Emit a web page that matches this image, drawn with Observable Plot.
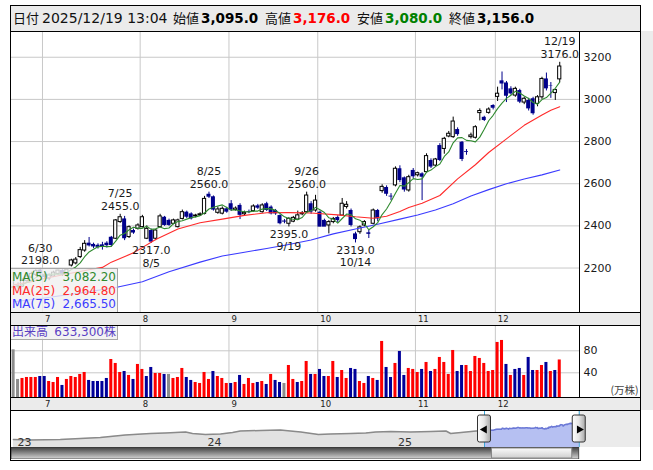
<!DOCTYPE html>
<html lang="ja">
<head>
<meta charset="utf-8">
<script src="https://cdn.jsdelivr.net/npm/d3@7"></script>
<script src="https://cdn.jsdelivr.net/npm/@observablehq/plot@0.6"></script>
<style>
  html,body{margin:0;padding:0;background:#fff;}
  #chart{position:relative;width:653px;height:470px;overflow:hidden;background:#fff;font-family:"DejaVu Sans","Noto Sans CJK JP",sans-serif;}
  #chart svg{display:block;}
</style>
</head>
<body>
<div id="chart"></div>
<script>
// ===================== DATA =====================
const dates = ["6/20","6/23","6/24","6/25","6/26","6/27","6/30",
"7/1","7/2","7/3","7/4","7/7","7/8","7/9","7/10","7/11","7/14","7/15","7/16","7/17","7/18","7/22","7/23","7/24","7/25","7/28","7/29","7/30","7/31",
"8/1","8/4","8/5","8/6","8/7","8/8","8/12","8/13","8/14","8/15","8/18","8/19","8/20","8/21","8/22","8/25","8/26","8/27","8/28","8/29",
"9/1","9/2","9/3","9/4","9/5","9/8","9/9","9/10","9/11","9/12","9/16","9/17","9/18","9/19","9/22","9/24","9/25","9/26","9/29","9/30",
"10/1","10/2","10/3","10/6","10/7","10/8","10/9","10/10","10/14","10/15","10/16","10/17","10/20","10/21","10/22","10/23","10/24","10/27","10/28","10/29","10/30","10/31",
"11/4","11/5","11/6","11/7","11/10","11/11","11/12","11/13","11/14","11/17","11/18","11/19","11/20","11/21","11/25","11/26","11/27","11/28",
"12/1","12/2","12/3","12/4","12/5","12/8","12/9","12/10","12/11","12/12","12/15","12/16","12/17","12/18","12/19"];

const opens = [2110,2115,2112,2138,2155,2168,2190,
2170,2150,2160,2172,2188,2172,2212,2222,2252,2283,
2318,2312,2308,2310,2318,2346,2339,2418,2433,2347,
2378,2386,2394,2339,2378,2339,2394,2441,2426,2410,
2394,2433,2465,2457,2445,2450,2457,2550,2538,2462,
2458,2481,2505,2475,2497,2455,2467,2470,2495,2465,
2505,2489,2473,2449,2423,2410,2420,2430,2455,2465,
2505,2473,2465,2426,2402,2418,2440,2449,2490,2473,
2362,2370,2402,2367,2410,2473,2565,2582,2541,2592,
2671,2628,2568,2663,2640,2647,2655,2710,2686,2781,
2765,2824,2821,2857,2797,2752,2821,2818,2935,2915,
2936,2971,3012,3088,3078,3050,3018,3042,2985,2995,
3003,2979,3010,3097,3064,3030,3095];

const highs = [2135,2130,2148,2168,2180,2192,2198,
2180,2172,2185,2190,2192,2196,2242,2250,2298,2330,
2345,2318,2315,2322,2325,2350,2430,2455,2445,2400,
2385,2410,2450,2400,2385,2382,2455,2445,2432,2432,
2432,2475,2470,2462,2455,2462,2540,2560,2542,2490,
2490,2488,2520,2490,2505,2470,2475,2500,2502,2505,
2512,2495,2478,2452,2430,2440,2445,2470,2468,2560,
2515,2545,2470,2432,2425,2440,2448,2530,2515,2480,
2370,2400,2425,2380,2480,2478,2595,2590,2553,2680,
2685,2632,2640,2672,2655,2652,2742,2718,2720,2790,
2820,2848,2916,2865,2800,2762,2840,2875,2955,2920,
2960,2975,3058,3130,3085,3060,3058,3048,3010,3005,
3010,3018,3105,3125,3080,3045,3176];

const lows = [2095,2100,2108,2132,2150,2160,2165,
2145,2140,2155,2165,2160,2168,2205,2215,2245,2275,
2300,2292,2290,2285,2295,2300,2335,2412,2330,2340,
2360,2380,2390,2335,2317,2330,2390,2398,2398,2405,
2390,2428,2435,2428,2438,2445,2452,2530,2470,2455,
2452,2460,2468,2470,2430,2448,2458,2465,2478,2460,
2468,2452,2450,2405,2410,2395,2415,2425,2448,2460,
2455,2465,2396,2398,2362,2410,2415,2445,2480,2395,
2319,2360,2395,2340,2405,2420,2555,2540,2520,2585,
2605,2560,2560,2625,2632,2520,2650,2672,2680,2705,
2740,2818,2815,2825,2705,2735,2812,2812,2898,2895,
2930,2950,2990,3045,2985,3020,3010,2980,2975,2945,
2925,2965,3000,3040,3005,2995,3080];

const closes = [2110,2115,2140,2160,2172,2186,2172,
2155,2165,2178,2188,2170,2192,2236,2240,2285,2315,
2305,2300,2298,2300,2306,2307,2426,2441,2339,2394,
2366,2402,2441,2386,2323,2378,2445,2402,2402,2426,
2426,2465,2441,2433,2449,2455,2528,2536,2475,2478,
2481,2465,2475,2482,2450,2462,2463,2492,2484,2497,
2473,2457,2457,2410,2418,2433,2438,2450,2460,2544,
2465,2520,2394,2394,2418,2433,2425,2505,2500,2402,
2335,2393,2418,2360,2473,2433,2585,2550,2537,2671,
2615,2570,2631,2633,2650,2631,2731,2679,2715,2710,
2813,2837,2895,2833,2715,2748,2829,2868,2945,2900,
2952,2958,3027,3073,3015,3026,3050,2987,3003,2955,
2932,3010,3097,3050,3062,3045,3156];

// volume in 万株
const volumes = [81.8,27.9,29.7,31.5,31.5,31.5,33.3,
33.3,24.2,22.4,31.5,17.0,27.9,33.3,31.5,37.0,40.6,
26.1,24.2,24.2,24.2,29.7,64.2,57.0,40.6,42.4,35.2,
27.9,55.2,46.1,33.3,49.7,38.8,38.8,37.0,37.0,29.7,
31.5,47.9,31.5,26.1,22.4,20.6,40.6,27.9,42.4,33.3,
29.7,20.6,20.6,22.4,35.2,18.8,29.7,20.6,22.4,24.2,
18.8,37.0,26.1,22.4,20.6,53.3,27.9,22.4,24.2,60.6,
37.0,37.0,46.1,33.3,33.3,60.6,31.5,44.2,29.7,47.9,
46.1,24.2,20.6,33.3,29.7,26.1,97.0,49.7,31.5,57.0,
78.8,35.2,47.9,46.1,40.6,46.1,58.8,42.4,46.1,67.9,
58.8,37.0,80.6,42.4,53.3,53.3,42.4,69.7,66.1,57.0,
42.4,44.2,95.2,98.8,55.2,35.2,46.1,47.9,35.2,67.9,
44.2,44.2,53.3,58.8,42.4,44.2,63.33];

// volume bar colour: u = up (red), d = down (blue), n = unchanged (gray)
const volDir = ("nnuuuud" + "duuuduuuuu" + "ddddduuudu" + "duudduudnu" + "uudduuuudu" +
  "uududuuudu" + "duddnuuduu" + "dudduuduud" + "duudududdu" + "dduuududuu" +
  "uuudduuuuu" + "uuuududdud" + "duududu").split("");

const ma25Dates = ["6/20","6/26","7/1","7/8","7/15","7/18","7/23","7/30","8/6","8/14","8/21","8/28","9/4","9/11","9/19","9/29","10/7","10/14","10/20","10/23","10/28","10/30","11/5","11/11","11/17","11/21","11/27","12/3","12/9","12/15","12/17","12/19"];
const ma25Vals  = [2120,2135,2150,2172,2192,2203,2228,2272,2335,2385,2415,2432,2450,2462,2463,2461,2452,2443,2436,2446,2468,2487,2507,2544,2623,2690,2748,2813,2877,2926,2948,2965];
const ma75Dates = ["6/20","7/1","7/15","7/24","8/1","8/12","8/21","8/28","9/4","9/11","9/19","9/29","10/6","10/14","10/21","10/28","11/4","11/10","11/14","11/20","11/27","12/3","12/9","12/15","12/19"];
const ma75Vals  = [2040,2058,2088,2108,2135,2182,2228,2257,2275,2293,2312,2333,2362,2385,2408,2432,2452,2475,2505,2542,2572,2600,2622,2642,2665];

const maLegendNames  = ["MA(5)","MA(25)","MA(75)"];
const maLegendValues = [3082.20, 2964.80, 2665.50];
const maColors       = ["#2f8a2f","#ff2a2a","#3b3bff"];

const annDates = ["6/30","7/25","8/5","8/25","9/19","9/26","10/14","12/19"];
const annKinds = ["high","high","low","high","low","high","low","high"];

const priceTicks = [2200,2400,2600,2800,3000,3200];
const volTicks = [40,80];
const monthLabels = ["7","8","9","10","11","12"];
const monthFirstDates = ["7/1","8/1","9/1","10/1","11/4","12/1"];

// navigator history (before the displayed window)
const navHistDates = ["2022-12-28","2023-01-29","2023-03-28","2023-06-13","2023-07-31","2023-09-17","2023-10-16","2023-11-04","2023-11-24","2023-12-07","2024-01-01","2024-01-30","2024-02-22","2024-03-08","2024-04-16","2024-05-24","2024-06-12","2024-07-02","2024-08-05","2024-08-28","2024-10-06","2024-11-04","2024-11-23","2024-12-22","2025-01-29","2025-03-09","2025-04-07","2025-04-16","2025-05-06","2025-06-04"];
const navHistPrices = [1013,950,1013,1266,1582,1772,1835,1899,1962,1772,1646,1709,1899,2089,2152,2215,2089,1962,1646,1709,1772,1835,1962,2025,1962,2025,2089,1772,1899,2089];
const yearStarts = ["2023-01-01","2024-01-01","2025-01-01"];
const yearLabels = ["23","24","25"];

// ===================== SETUP =====================
const FONT = '"DejaVu Sans","Noto Sans CJK JP",sans-serif';
const CJK = '"Noto Sans CJK JP","DejaVu Sans",sans-serif';
const GRID = "#c8c8c8";
const X_DOMAIN = [-0.477, 127.676];
const P_DOMAIN = [1989.1, 3322.1];
const V_DOMAIN = [-4.9, 126];
const NAV_Y = [0, 4550];
const NAV_X = [new Date("2022-12-24T08:00:00Z"), new Date("2026-04-15T16:00:00Z")];
const VOL_COLORS = {u: "#ff0000", d: "#000099", n: "#8c8c8c"};

const candles = dates.map((d, p) => ({p, date: d, o: opens[p], h: highs[p], l: lows[p], c: closes[p], v: volumes[p], dir: volDir[p]}));
const monthP = monthFirstDates.map(d => dates.indexOf(d));
const ma25 = ma25Dates.map((d, k) => ({p: dates.indexOf(d), v: ma25Vals[k]}));
const ma75 = ma75Dates.map((d, k) => ({p: dates.indexOf(d), v: ma75Vals[k]}));
const ann = annDates.map((d, k) => {
  const p = dates.indexOf(d);
  return {p, date: d, kind: annKinds[k], price: annKinds[k] === "high" ? highs[p] : lows[p]};
});
const last = dates.length - 1;

const root = document.getElementById("chart");
function addDiv(css, html) {
  const d = document.createElement("div");
  d.style.cssText = "position:absolute;" + css;
  if (html != null) d.innerHTML = html;
  root.appendChild(d);
  return d;
}
function addSvg(svg, left, top, w, h) {
  const d = addDiv(`left:${left}px;top:${top}px;width:${w}px;height:${h}px;`);
  d.appendChild(svg);
  return d;
}
function addDefs(svg, html) {
  const defs = document.createElementNS("http://www.w3.org/2000/svg", "defs");
  defs.innerHTML = html;
  svg.insertBefore(defs, svg.firstChild);
}

// ---------- backgrounds ----------
addDiv("left:10px;top:5px;width:631px;height:27px;background:#ebebeb;");
addDiv("left:641px;top:31px;width:12px;height:379px;background:#ececec;");
addDiv("left:10px;top:312px;width:631px;height:13px;background:#ebebeb;");
addDiv("left:10px;top:397px;width:631px;height:13px;background:#ebebeb;");

// ---------- header ----------
const fmt1 = d3.format(",.1f");
const hdrItems = [
  {t: "日付", x: 13, k: "lab"},
  {t: "2025/12/19 13:04", x: 42, k: "num"},
  {t: "始値", x: 173, k: "lab"}, {t: fmt1(opens[last]), x: 201, k: "val", c: "#000"},
  {t: "高値", x: 265, k: "lab"}, {t: fmt1(highs[last]), x: 293, k: "val", c: "#ff0000"},
  {t: "安値", x: 357, k: "lab"}, {t: fmt1(lows[last]), x: 385, k: "val", c: "#008000"},
  {t: "終値", x: 449, k: "lab"}, {t: fmt1(closes[last]), x: 477, k: "val", c: "#000"}
];
for (const it of hdrItems) {
  const f = it.k === "lab" ? `font-family:${CJK};font-size:13px;`
          : it.k === "num" ? `font-family:${FONT};font-size:14px;`
          : `font-family:${FONT};font-size:13.5px;font-weight:bold;`;
  addDiv(`left:${it.x}px;top:5px;height:26px;line-height:26px;white-space:nowrap;color:${it.c || "#111"};${f}`, it.t);
}

// ---------- main price chart ----------
const main = Plot.plot({
  width: 630, height: 281, marginTop: 0, marginBottom: 0, marginLeft: 1, marginRight: 60,
  style: {background: "white", fontFamily: FONT, fontSize: "11px", color: "#1a1a1a"},
  x: {domain: X_DOMAIN, axis: null},
  y: {domain: P_DOMAIN, axis: null, label: null},
  marks: [
    Plot.gridY(priceTicks, {stroke: GRID, strokeOpacity: 1}),
    Plot.ruleX(monthP, {x: p => p - 0.5, stroke: GRID, strokeOpacity: 1}),
    Plot.ruleX(candles.filter(d => d.c < d.o), {x: "p", y1: "l", y2: "h", stroke: "#00008b"}),
    Plot.ruleX(candles.filter(d => d.c >= d.o), {x: "p", y1: "l", y2: "h", stroke: "#000"}),
    Plot.rect(candles.filter(d => d.c < d.o), {x1: d => d.p - 0.45, x2: d => d.p + 0.45, y1: "o", y2: "c", fill: "#00008b"}),
    Plot.rect(candles.filter(d => d.c > d.o), {x1: d => d.p - 0.36, x2: d => d.p + 0.36, y1: "o", y2: "c", fill: "#fff", stroke: "#000", strokeWidth: 1}),
    Plot.ruleY(candles.filter(d => d.c === d.o), {x1: d => d.p - 0.45, x2: d => d.p + 0.45, y: "o", stroke: "#000"}),
    Plot.line(ma75, {x: "p", y: "v", stroke: maColors[2], strokeWidth: 1.1}),
    Plot.line(ma25, {x: "p", y: "v", stroke: maColors[1], strokeWidth: 1.1}),
    Plot.line(candles, Plot.windowY({k: 5, anchor: "end"}, {x: "p", y: "c", stroke: maColors[0], strokeWidth: 1.1})),
    Plot.text(ann.filter(a => a.kind === "high"), {x: "p", y: "price", text: a => `${a.date}\n${a.price.toFixed(1)}`,
      lineAnchor: "bottom", dy: -4, fontSize: 11, lineHeight: 1.17, fill: "#1a1a1a"}),
    Plot.text(ann.filter(a => a.kind === "low"), {x: "p", y: "price", text: a => `${a.price.toFixed(1)}\n${a.date}`,
      lineAnchor: "top", dy: 1.5, fontSize: 11, lineHeight: 1.17, fill: "#1a1a1a"}),
    Plot.axisY(priceTicks, {anchor: "right", tickSize: 0, tickPadding: 3, fontSize: 11, label: null, fill: "#1a1a1a", tickFormat: d => String(d)})
  ]
});
addSvg(main, 10, 31, 630, 281);

// ---------- month label rows ----------
function monthRow() {
  return Plot.plot({
    width: 630, height: 13, marginTop: 0, marginBottom: 0, marginLeft: 1, marginRight: 60,
    style: {background: "transparent", fontFamily: FONT},
    x: {domain: X_DOMAIN, axis: null},
    marks: [Plot.text(monthP, {x: p => p - 0.5, text: (p, k) => monthLabels[k], textAnchor: "start", dx: 2.5,
      frameAnchor: "middle", fontSize: 8.5, fill: "#222"})]
  });
}
addSvg(monthRow(), 10, 312, 630, 13);
addSvg(monthRow(), 10, 397, 630, 13);

// ---------- volume ----------
const volPlot = Plot.plot({
  width: 630, height: 72, marginTop: 0, marginBottom: 0, marginLeft: 1, marginRight: 60,
  style: {background: "white", fontFamily: FONT, fontSize: "11px", color: "#1a1a1a"},
  x: {domain: X_DOMAIN, axis: null},
  y: {domain: V_DOMAIN, axis: null, label: null},
  marks: [
    Plot.gridY(volTicks, {stroke: GRID, strokeOpacity: 1}),
    Plot.ruleX(monthP, {x: p => p - 0.5, stroke: GRID, strokeOpacity: 1}),
    ...["u", "d", "n"].map(k => Plot.rect(candles.filter(d => d.dir === k),
      {x1: d => d.p - 0.34, x2: d => d.p + 0.34, y1: () => V_DOMAIN[0], y2: "v", fill: VOL_COLORS[k]})),
    Plot.axisY(volTicks, {anchor: "right", tickSize: 0, tickPadding: 3, fontSize: 11, label: null, fill: "#1a1a1a", tickFormat: d => String(d)}),
    Plot.text(["(万株)"], {text: d => d, frameAnchor: "bottom-right", textAnchor: "end", lineAnchor: "middle",
      dx: 58, dy: -6.5, fontSize: 10.5, fill: "#444", fontFamily: CJK})
  ]
});
addSvg(volPlot, 10, 325, 630, 72);

// ---------- navigator ----------
const parseMD = md => { const [m, d] = md.split("/").map(Number); return new Date(Date.UTC(2025, m - 1, d)); };
const navData = navHistDates.map((d, k) => ({date: new Date(d + "T00:00:00Z"), v: navHistPrices[k]}))
  .concat(candles.map(c => ({date: parseMD(c.date), v: c.c})));
const selStart = parseMD(dates[0]), selEnd = parseMD(dates[last]);
const navSel = navData.filter(d => d.date >= selStart);
const handles = [{date: selStart, rot: -90}, {date: selEnd, rot: 90}];

const nav = Plot.plot({
  width: 630, height: 36, marginTop: 0, marginBottom: 0, marginLeft: 1, marginRight: 0,
  style: {background: "white", fontFamily: FONT},
  x: {type: "utc", domain: NAV_X, axis: null},
  y: {domain: NAV_Y, axis: null},
  marks: [
    Plot.rect([0], {x1: () => selEnd, x2: () => NAV_X[1], fill: "#ebebeb"}),
    Plot.areaY(navData, {x: "date", y: "v", fill: "#e2e2e2"}),
    Plot.areaY(navSel, {x: "date", y: "v", fill: "#b6c0f2"}),
    Plot.lineY(navData.filter(d => d.date <= selStart), {x: "date", y: "v", stroke: "#8a8a8a"}),
    Plot.lineY(navSel, {x: "date", y: "v", stroke: "#6b78d6"}),
    Plot.text(yearStarts, {x: d => new Date(d + "T00:00:00Z"), text: (d, k) => yearLabels[k], textAnchor: "start", dx: 2,
      frameAnchor: "bottom", lineAnchor: "bottom", dy: -2, fontSize: 11, fill: "#333"}),
    Plot.ruleX(handles, {x: "date", stroke: "#3aa6d8"}),
    Plot.rect(handles, {x1: "date", x2: "date", insetLeft: -6.5, insetRight: -6.5, insetTop: 4, insetBottom: 5,
      fill: "url(#handleGrad)", stroke: "#333", rx: 2}),
    Plot.dot(handles, {x: "date", frameAnchor: "middle", symbol: "triangle", rotate: "rot", r: 3, fill: "#000", stroke: "none"})
  ]
});
addDefs(nav, `<linearGradient id="handleGrad" x1="0" x2="1" y1="0" y2="0">
  <stop offset="0" stop-color="#ffffff"/><stop offset="0.5" stop-color="#e6e6e6"/><stop offset="1" stop-color="#a8a8a8"/></linearGradient>`);
addSvg(nav, 10, 411, 630, 36);

const scroll = Plot.plot({
  width: 630, height: 12, marginTop: 0, marginBottom: 0, marginLeft: 1, marginRight: 0,
  style: {background: "white"},
  x: {type: "utc", domain: NAV_X, axis: null},
  marks: [
    Plot.rect([0], {x1: () => NAV_X[0], x2: () => selEnd, fill: "url(#trackGrad)", stroke: "#333", strokeWidth: 0.8}),
    Plot.rect([0], {x1: () => selStart, x2: () => selEnd, insetLeft: 7.5, insetRight: 7, insetTop: 1, insetBottom: 1,
      fill: "url(#thumbGrad)", stroke: "#888"})
  ]
});
addDefs(scroll, `<linearGradient id="trackGrad" x1="0" x2="0" y1="0" y2="1">
  <stop offset="0" stop-color="#3c3c3c"/><stop offset="0.5" stop-color="#8a8a8a"/><stop offset="1" stop-color="#d6d6d6"/></linearGradient>
  <linearGradient id="thumbGrad" x1="0" x2="0" y1="0" y2="1">
  <stop offset="0" stop-color="#fbfbfb"/><stop offset="1" stop-color="#cfcfcf"/></linearGradient>`);
addSvg(scroll, 10, 447, 630, 12);

// ---------- legends ----------
const fmt2 = d3.format(",.2f");
const maBox = addDiv("left:11px;top:268px;width:106px;height:43px;background:rgba(240,240,240,0.82);border:1px solid #a8a8a8;border-left:none;");
maLegendNames.forEach((n, k) => {
  const row = document.createElement("div");
  row.style.cssText = `position:absolute;left:1px;right:1px;top:${2 + k * 13.5}px;height:13px;line-height:13px;font-size:12px;color:${maColors[k]};font-family:${FONT};`;
  row.innerHTML = `<span style="position:absolute;left:0">${n}</span><span style="position:absolute;right:0">${fmt2(maLegendValues[k])}</span>`;
  maBox.appendChild(row);
});
const volText = d3.format(",")(Math.round(volumes[last] * 10000));
const vBox = addDiv("left:11px;top:325px;width:106px;height:14px;background:rgba(240,240,240,0.85);border:1px solid #a8a8a8;border-left:none;border-top:none;");
vBox.innerHTML = `<span style="position:absolute;left:1px;top:0;line-height:14px;font-size:12px;color:#5a3fc4;font-family:${CJK};">出来高</span>` +
  `<span style="position:absolute;right:1px;top:0;line-height:14px;font-size:12px;color:#5a3fc4;font-family:${FONT};">${volText}<span style="font-family:${CJK}">株</span></span>`;

// ---------- borders ----------
addDiv("left:10px;top:5px;width:631px;height:456px;border:1px solid #000;box-sizing:border-box;");
for (const y of [31, 312, 325, 397, 410]) addDiv(`left:10px;top:${y}px;width:631px;height:1px;background:#000;`);
addDiv("left:579px;top:31px;width:1px;height:282px;background:#000;");
addDiv("left:579px;top:325px;width:1px;height:73px;background:#000;");
</script>
</body>
</html>
